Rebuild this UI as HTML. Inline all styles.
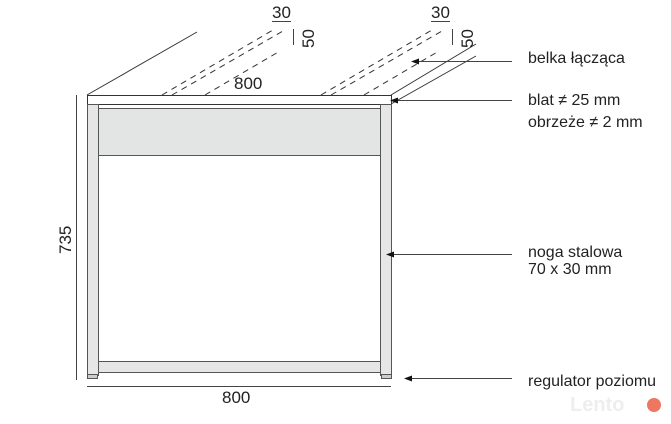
<!DOCTYPE html><html><head><style>body{margin:0;background:#fff}svg{display:block}text{font-family:"Liberation Sans",sans-serif;fill:#222}</style></head><body>
<svg width="671" height="424" viewBox="0 0 671 424" xmlns="http://www.w3.org/2000/svg">
<g stroke="#333" stroke-width="1" fill="none">
<line x1="87" y1="95" x2="197" y2="32"/>
<line x1="391" y1="95" x2="476" y2="44"/>
<line x1="391" y1="104" x2="476" y2="56"/>
<g stroke-dasharray="6,5">
<line x1="162" y1="95" x2="273" y2="30"/>
<line x1="172" y1="95" x2="283" y2="31"/>
<line x1="205" y1="95" x2="280" y2="51"/>
<line x1="321" y1="95" x2="432" y2="30"/>
<line x1="331" y1="95" x2="442" y2="31"/>
<line x1="364" y1="95" x2="439" y2="51"/>
</g>
</g>
<rect x="87.5" y="95.5" width="304" height="9" fill="#fff" stroke="#333"/>
<rect x="87.5" y="104.5" width="11" height="271" fill="#e6e6e6" stroke="#555"/>
<rect x="380.5" y="104.5" width="11" height="271" fill="#e6e6e6" stroke="#555"/>
<rect x="98.5" y="108.5" width="282" height="47" fill="#e3e5e5" stroke="#555"/>
<rect x="98.5" y="361.5" width="282" height="11" fill="#e6e6e6" stroke="#555"/>
<rect x="87.5" y="374.5" width="10" height="4" fill="#ccc" stroke="#555"/>
<rect x="381.5" y="374.5" width="10" height="4" fill="#ccc" stroke="#555"/>
<g stroke="#444">
<line x1="76.5" y1="95" x2="76.5" y2="380"/>
<line x1="87" y1="386.5" x2="391" y2="386.5"/>
<line x1="272" y1="21.5" x2="291" y2="21.5"/>
<line x1="431" y1="21.5" x2="450" y2="21.5"/>
<line x1="293.5" y1="29" x2="293.5" y2="45"/>
<line x1="452.5" y1="29" x2="452.5" y2="45"/>
<line x1="512" y1="61.5" x2="418" y2="61.5"/>
<line x1="512" y1="100.5" x2="396" y2="100.5"/>
<line x1="512" y1="254.5" x2="392" y2="254.5"/>
<line x1="512" y1="378.5" x2="411" y2="378.5"/>
</g>
<g fill="#111">
<path d="M411 61.5 l8 -3 v6z"/><path d="M390 100.5 l8 -3 v6z"/><path d="M386 254.5 l8 -3 v6z"/><path d="M404 378.5 l8 -3 v6z"/>
</g>
<g font-size="17">
<text x="272" y="18">30</text><text x="431" y="18">30</text>
<text transform="translate(314,48) rotate(-90)">50</text>
<text transform="translate(473,48) rotate(-90)">50</text>
<text x="234" y="89">800</text>
<text x="222" y="403">800</text>
<text transform="translate(71,254) rotate(-90)">735</text>
</g>
<g font-size="16">
<text x="528" y="63">belka łącząca</text>
<text x="528" y="105">blat ≠ 25 mm</text>
<text x="528" y="127">obrzeże ≠ 2 mm</text>
<text x="528" y="257">noga stalowa</text>
<text x="528" y="274">70 x 30 mm</text>
<text x="528" y="386">regulator poziomu</text>
</g>
<text x="570" y="411" font-size="20" font-weight="bold" style="fill:#eee">Lento</text>
<circle cx="654" cy="405" r="7" fill="#e8553a" opacity="0.8"/>
</svg></body></html>
